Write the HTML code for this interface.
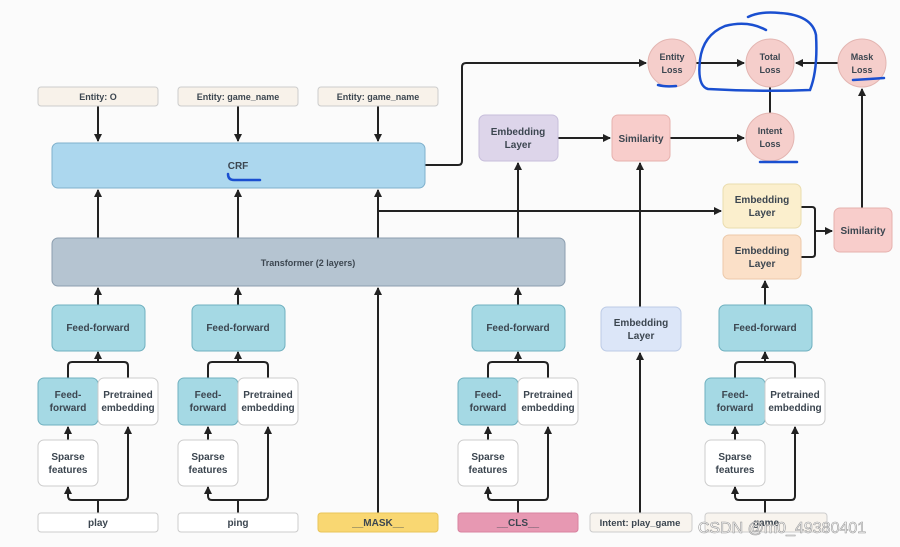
<!DOCTYPE html>
<html><head><meta charset="utf-8"><style>
html,body{margin:0;padding:0;background:#fbfbfb;}
svg{display:block;}
text{font-family:"Liberation Sans",sans-serif;font-weight:bold;font-size:10px;text-anchor:middle;fill:#3c4650;}
</style></head><body>
<svg width="900" height="547" viewBox="0 0 900 547" xmlns="http://www.w3.org/2000/svg">
<defs>
<marker id="a" markerWidth="8" markerHeight="8" refX="7" refY="4" orient="auto" markerUnits="userSpaceOnUse">
<path d="M0,0 L8,4 L0,8 z" fill="#222"/></marker>
</defs>
<rect width="900" height="547" fill="#fbfbfb"/>
<g stroke="#222" stroke-width="2" fill="none">
<path d="M98 106 V141" marker-end="url(#a)"/>
<path d="M238 106 V141" marker-end="url(#a)"/>
<path d="M378 106 V141" marker-end="url(#a)"/>
<path d="M98 238 V190" marker-end="url(#a)"/>
<path d="M238 238 V190" marker-end="url(#a)"/>
<path d="M378 238 V190" marker-end="url(#a)"/>
<path d="M378 211 H721" marker-end="url(#a)"/>
<path d="M518 238 V163" marker-end="url(#a)"/>
<path d="M425 165 H458 Q462 165 462 161 V67 Q462 63 466 63 H646" marker-end="url(#a)"/>
<path d="M696 63 H744" marker-end="url(#a)"/>
<path d="M838 63 H796" marker-end="url(#a)"/>
<path d="M770 113 V87"/>
<path d="M558 138 H610" marker-end="url(#a)"/>
<path d="M670 138 H744" marker-end="url(#a)"/>
<path d="M640 307 V163" marker-end="url(#a)"/>
<path d="M640 513 V353" marker-end="url(#a)"/>
<path d="M862 208 V89" marker-end="url(#a)"/>
<path d="M801 207 H812 Q815 207 815 210 V254 Q815 257 812 257 H801"/>
<path d="M815 231 H832" marker-end="url(#a)"/>
<path d="M765 305 V281" marker-end="url(#a)"/>
<path d="M378 513 V288" marker-end="url(#a)"/>
<path d="M98 305 V288" marker-end="url(#a)"/>
<path d="M238 305 V288" marker-end="url(#a)"/>
<path d="M518 305 V288" marker-end="url(#a)"/>
</g>
<g stroke="#222" stroke-width="2" fill="none">
<g id="col">
<path d="M68 378 V366 Q68 362 72 362 H124 Q128 362 128 366 V378"/>
<path d="M98 362 V352" marker-end="url(#a)"/>
<path d="M68 440 V427" marker-end="url(#a)"/>
<path d="M98 513 V500 H72 Q68 500 68 496 V487" marker-end="url(#a)"/>
<path d="M98 500 H124 Q128 500 128 496 V427" marker-end="url(#a)"/>
</g>
<use href="#col" x="140"/>
<use href="#col" x="420"/>
<use href="#col" x="667"/>
</g>
<g stroke-width="1">
<rect x="38" y="87" width="120" height="19" rx="3" fill="#f8f2ea" stroke="#ccc"/>
<rect x="178" y="87" width="120" height="19" rx="3" fill="#f8f2ea" stroke="#ccc"/>
<rect x="318" y="87" width="120" height="19" rx="3" fill="#f8f2ea" stroke="#ccc"/>
<rect x="52" y="143" width="373" height="45" rx="6" fill="#acd7ee" stroke="#7fb0cc"/>
<rect x="52" y="238" width="513" height="48" rx="6" fill="#b5c4d1" stroke="#8c9eaf"/>
<rect x="479" y="115" width="79" height="46" rx="6" fill="#ddd5ea" stroke="#c7bedb"/>
<rect x="612" y="115" width="58" height="46" rx="6" fill="#f8cdcb" stroke="#e6b1ae"/>
<rect x="723" y="184" width="78" height="44" rx="6" fill="#fbefcd" stroke="#eadcae"/>
<rect x="723" y="235" width="78" height="44" rx="6" fill="#fbe0c8" stroke="#ecc9aa"/>
<rect x="834" y="208" width="58" height="44" rx="6" fill="#f8cdcb" stroke="#e6b1ae"/>
<rect x="601" y="307" width="80" height="44" rx="6" fill="#dce6f8" stroke="#bccbe6"/>
<circle cx="672" cy="63" r="24" fill="#f5cecb" stroke="#e3b5b1"/>
<circle cx="770" cy="63" r="24" fill="#f5cecb" stroke="#e3b5b1"/>
<circle cx="862" cy="63" r="24" fill="#f5cecb" stroke="#e3b5b1"/>
<circle cx="770" cy="137" r="24" fill="#f5cecb" stroke="#e3b5b1"/>
<rect x="38" y="513" width="120" height="19" rx="3" fill="#fff" stroke="#ccc"/>
<rect x="178" y="513" width="120" height="19" rx="3" fill="#fff" stroke="#ccc"/>
<rect x="318" y="513" width="120" height="19" rx="3" fill="#f9d772" stroke="#e9c45a"/>
<rect x="458" y="513" width="120" height="19" rx="3" fill="#e798b2" stroke="#d883a0"/>
<rect x="590" y="513" width="102" height="19" rx="3" fill="#f8f4ee" stroke="#ccc"/>
<rect x="705" y="513" width="122" height="19" rx="3" fill="#f8f4ee" stroke="#ccc"/>
<g id="colb">
<rect x="52" y="305" width="93" height="46" rx="6" fill="#a5d9e4" stroke="#6fb0bf"/>
<rect x="38" y="378" width="60" height="47" rx="6" fill="#a5d9e4" stroke="#6fb0bf"/>
<rect x="98" y="378" width="60" height="47" rx="6" fill="#fff" stroke="#ccc"/>
<rect x="38" y="440" width="60" height="46" rx="6" fill="#fff" stroke="#ccc"/>
<text x="98" y="331">Feed-forward</text>
<text x="68" y="398">Feed-</text><text x="68" y="411">forward</text>
<text x="128" y="398">Pretrained</text><text x="128" y="411">embedding</text>
<text x="68" y="460">Sparse</text><text x="68" y="473">features</text>
</g>
<use href="#colb" x="140"/>
<use href="#colb" x="420"/>
<use href="#colb" x="667"/>
</g>
<text x="98" y="100" style="font-size:9px">Entity: O</text>
<text x="238" y="100" style="font-size:9px">Entity: game_name</text>
<text x="378" y="100" style="font-size:9px">Entity: game_name</text>
<text x="238" y="169">CRF</text>
<text x="308" y="266" style="font-size:9px">Transformer (2 layers)</text>
<text x="518" y="135">Embedding</text><text x="518" y="148">Layer</text>
<text x="641" y="142">Similarity</text>
<text x="762" y="203">Embedding</text><text x="762" y="216">Layer</text>
<text x="762" y="254">Embedding</text><text x="762" y="267">Layer</text>
<text x="863" y="234">Similarity</text>
<text x="641" y="326">Embedding</text><text x="641" y="339">Layer</text>
<text x="672" y="60" style="font-size:9px">Entity</text><text x="672" y="73" style="font-size:9px">Loss</text>
<text x="770" y="60" style="font-size:9px">Total</text><text x="770" y="73" style="font-size:9px">Loss</text>
<text x="862" y="60" style="font-size:9px">Mask</text><text x="862" y="73" style="font-size:9px">Loss</text>
<text x="770" y="134" style="font-size:9px">Intent</text><text x="770" y="147" style="font-size:9px">Loss</text>
<text x="98" y="526">play</text>
<text x="238" y="526">ping</text>
<text x="378" y="526">__MASK__</text>
<text x="518" y="526">__CLS__</text>
<text x="640" y="526" style="font-size:9.5px">Intent: play_game</text>
<text x="766" y="526">game</text>
<g stroke="#1a4fd0" stroke-width="2.5" fill="none" stroke-linecap="round">
<path d="M228 174 Q228 180 234 180 H260"/>
<path d="M658 85 Q665 87 676 86"/>
<path d="M853 80 Q870 79 884 78"/>
<path d="M760 162 H797"/>
<path d="M766 30 Q748 20 725 26 Q703 35 700 60 Q697 86 708 89 Q760 92 810 90 Q818 70 816 35 Q812 15 780 13 Q760 11 748 17"/>
</g>
<text x="782" y="533" style="font-family:'Liberation Sans',sans-serif;font-weight:normal;font-size:16px;fill:#fff;stroke:#999;stroke-width:0.6">CSDN @m0_49380401</text>
</svg>
</body></html>
